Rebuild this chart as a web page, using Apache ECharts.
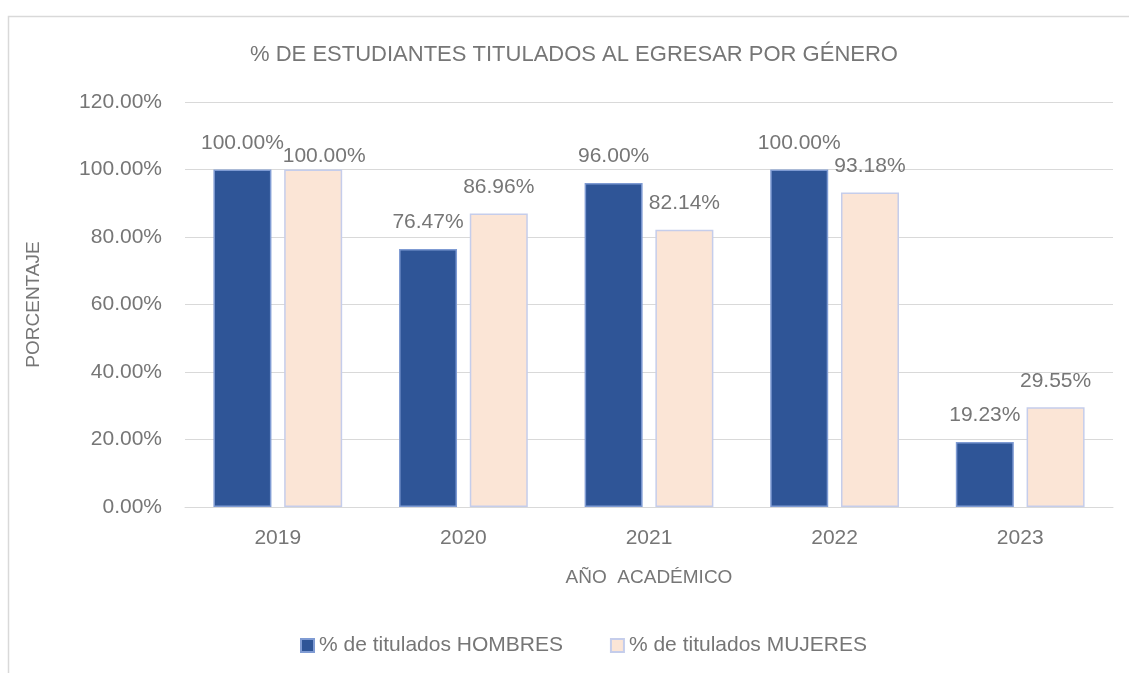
<!DOCTYPE html>
<html>
<head>
<meta charset="utf-8">
<script src="https://cdn.jsdelivr.net/npm/echarts@6/dist/echarts.min.js"></script>
<style>
  html, body { margin: 0; padding: 0; background: #fff; }
  #container { width: 1129px; height: 673px; }
</style>
</head>
<body>
<div id="container"></div>
<script>
// data
let years = ['2019', '2020', '2021', '2022', '2023'];
let hombres = [100.00, 76.47, 96.00, 100.00, 19.23];
let mujeres = [100.00, 86.96, 82.14, 93.18, 29.55];
let yTicks = [0, 20, 40, 60, 80, 100, 120];

let dom = document.getElementById("container");
let myChart = echarts.init(dom);

let fontFamily = '"Liberation Sans", Arial, sans-serif';
let grayText = '#767676';

function pct(v) {
    return v.toFixed(2) + '%';
}

// the overlapping 2019 label in Excel sits lower and to the right
let mujeresData = mujeres.map(function (v, i) {
    if (i === 0) {
        return { value: v, label: { offset: [11, 13] } };
    }
    return v;
});

let labelStyle = {
    show: true,
    position: 'top',
    distance: 16,
    color: grayText,
    fontSize: 21,
    fontFamily: fontFamily,
    formatter: function (p) { return pct(p.value); }
};

let option = {
    backgroundColor: '#fff',
    animation: false,
    textStyle: { fontFamily: fontFamily },
    graphic: [{
        type: 'rect',
        shape: { x: 8.5, y: 16.5, width: 1200, height: 700 },
        style: { fill: 'none', stroke: '#d9d9d9', lineWidth: 1.5 },
        silent: true
    }],
    title: {
        text: '% DE ESTUDIANTES TITULADOS AL EGRESAR POR GÉNERO',
        left: 574,
        top: 44,
        textAlign: 'center',
        padding: 0,
        textStyle: {
            color: grayText,
            fontSize: 22,
            fontWeight: 'normal',
            fontFamily: fontFamily
        }
    },
    legend: {
        left: 300,
        top: 635,
        icon: 'rect',
        itemWidth: 13,
        itemHeight: 13,
        itemGap: 47,
        padding: 0,
        textStyle: { color: grayText, fontSize: 21, fontFamily: fontFamily },
        data: ['% de titulados HOMBRES', '% de titulados MUJERES']
    },
    grid: {
        left: 185,
        right: 16,
        top: 102,
        bottom: 166,
        containLabel: false
    },
    xAxis: {
        type: 'category',
        data: years,
        name: 'AÑO  ACADÉMICO',
        nameLocation: 'middle',
        nameGap: 61,
        nameTextStyle: { color: grayText, fontSize: 19, fontFamily: fontFamily },
        axisTick: { show: false },
        axisLine: { lineStyle: { color: '#d9d9d9', width: 1 } },
        axisLabel: { color: grayText, fontSize: 21, margin: 21, fontFamily: fontFamily }
    },
    yAxis: {
        type: 'value',
        min: yTicks[0],
        max: yTicks[yTicks.length - 1],
        interval: 20,
        name: 'PORCENTAJE',
        nameLocation: 'middle',
        nameRotate: 90,
        nameGap: 142,
        nameTextStyle: { color: grayText, fontSize: 19, fontFamily: fontFamily },
        axisLine: { show: false },
        axisTick: { show: false },
        splitLine: { lineStyle: { color: '#d9d9d9', width: 1 } },
        axisLabel: {
            color: grayText,
            fontSize: 21,
            margin: 23,
            fontFamily: fontFamily,
            formatter: function (v) { return pct(v); }
        }
    },
    series: [
        {
            name: '% de titulados HOMBRES',
            type: 'bar',
            data: hombres,
            barWidth: 58,
            barGap: '22%',
            itemStyle: { color: '#2F5597', borderColor: '#7F9BD3', borderWidth: 1.5 },
            label: labelStyle
        },
        {
            name: '% de titulados MUJERES',
            type: 'bar',
            data: mujeresData,
            barWidth: 58,
            barGap: '22%',
            itemStyle: { color: '#FBE5D6', borderColor: '#C5CDEB', borderWidth: 1.5 },
            label: labelStyle
        }
    ]
};
myChart.setOption(option);
</script>
</body>
</html>
